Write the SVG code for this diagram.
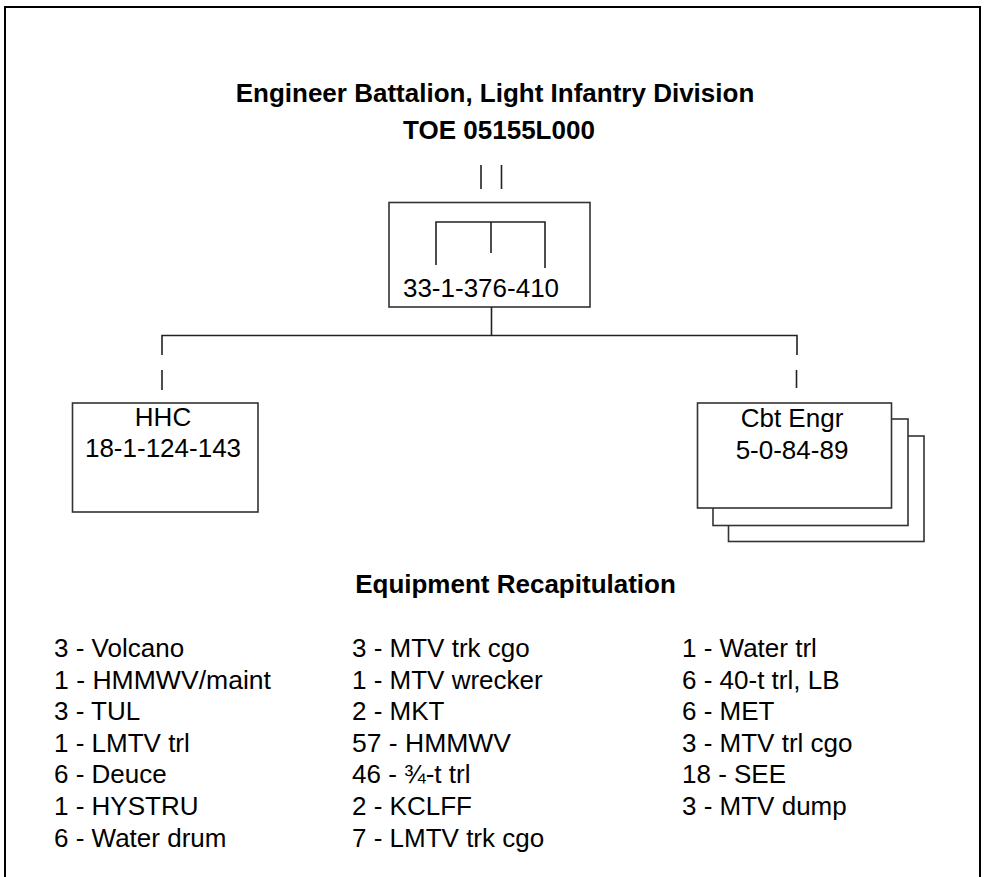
<svg xmlns="http://www.w3.org/2000/svg" width="988" height="877" viewBox="0 0 988 877">
<style>
.bg{fill:#fff}
.frame{fill:none;stroke:#000;stroke-width:2}
.box{fill:#fff;stroke:#333;stroke-width:1.6}
.ln{fill:none;stroke:#222;stroke-width:1.6}
.t{font-family:"Liberation Sans",Arial,sans-serif;fill:#000}
.title{font-size:26px;font-weight:bold;text-anchor:middle}
.node{font-size:26px;text-anchor:middle}
.list{font-size:26px}
</style>
<rect class="bg" x="0" y="0" width="988" height="877"/>
<path class="frame" d="M5,880 V7 H980 V880"/>
<g id="title">
<text class="t title" x="495" y="101.5">Engineer Battalion, Light Infantry Division</text>
<text class="t title" x="499" y="138.5">TOE 05155L000</text>
</g>
<g id="node-bn">
<rect class="box" x="389" y="202.5" width="201" height="104.5"/>
<path class="ln" d="M481,165 V189 M501.5,165 V189"/>
<path class="ln" d="M436,265 V222 H545 V268 M491,222 V253"/>
<text class="t node" x="481" y="297">33-1-376-410</text>
</g>
<g id="node-hhc">
<rect class="box" x="72.5" y="403" width="185.5" height="109"/>
<text class="t node" x="163" y="426">HHC</text>
<text class="t node" x="163" y="457">18-1-124-143</text>
</g>
<g id="node-cbt">
<rect class="box" x="728.5" y="436" width="195.5" height="105.5"/>
<rect class="box" x="713" y="419" width="195" height="106.5"/>
<rect class="box" x="697.5" y="403" width="194" height="105"/>
<text class="t node" x="792" y="426.5">Cbt Engr</text>
<text class="t node" x="792" y="459">5-0-84-89</text>
</g>
<g id="connectors">
<path class="ln" d="M491.5,307 V335.5 M162,390 V370 M162,355 V335.5 H797 V355 M796.5,370 V388"/>
</g>
<g id="equipment">
<text class="t title" x="515.5" y="592.5">Equipment Recapitulation</text>
<g class="t list">
<text x="54" y="657">3 - Volcano</text>
<text x="54" y="688.5" textLength="217" lengthAdjust="spacingAndGlyphs">1 - HMMWV/maint</text>
<text x="54" y="720">3 - TUL</text>
<text x="54" y="751.5">1 - LMTV trl</text>
<text x="54" y="783">6 - Deuce</text>
<text x="54" y="815">1 - HYSTRU</text>
<text x="54" y="846.5">6 - Water drum</text>
<text x="352" y="657">3 - MTV trk cgo</text>
<text x="352" y="688.5">1 - MTV wrecker</text>
<text x="352" y="720">2 - MKT</text>
<text x="352" y="751.5" textLength="159" lengthAdjust="spacingAndGlyphs">57 - HMMWV</text>
<text x="352" y="783">46 - ¾-t trl</text>
<text x="352" y="815">2 - KCLFF</text>
<text x="352" y="846.5">7 - LMTV trk cgo</text>
<text x="682" y="657">1 - Water trl</text>
<text x="682" y="688.5">6 - 40-t trl, LB</text>
<text x="682" y="720">6 - MET</text>
<text x="682" y="751.5">3 - MTV trl cgo</text>
<text x="682" y="783">18 - SEE</text>
<text x="682" y="815">3 - MTV dump</text>
</g>
</g>
</svg>
